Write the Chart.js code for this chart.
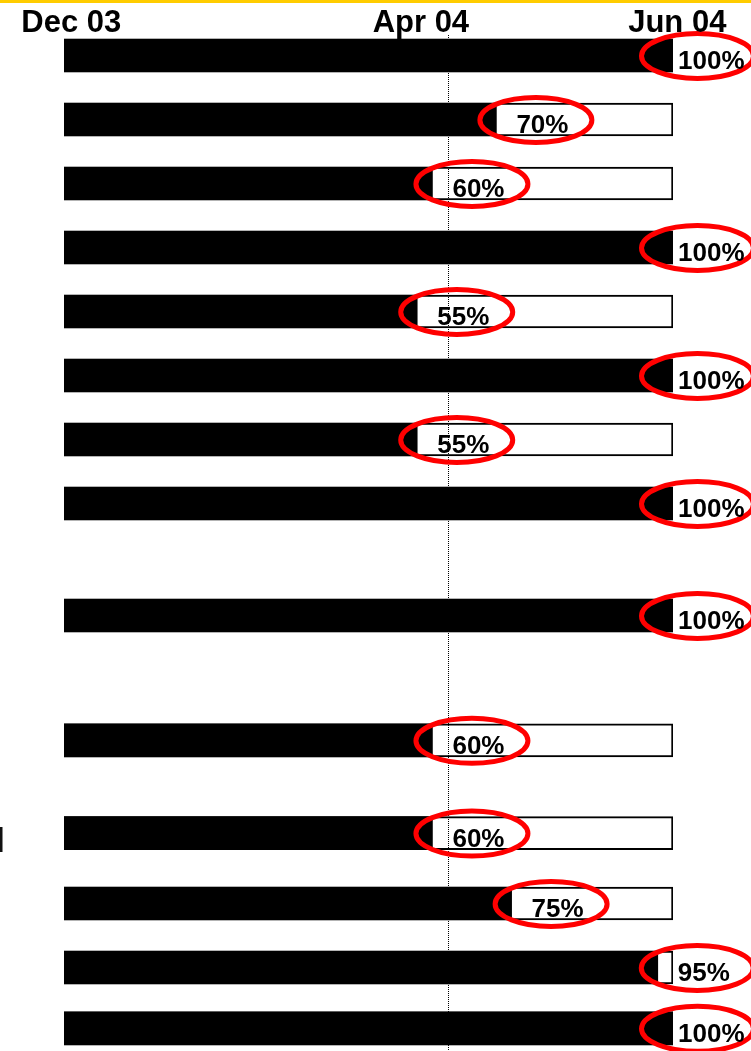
<!DOCTYPE html>
<html>
<head>
<meta charset="utf-8">
<script src="https://cdn.jsdelivr.net/npm/chart.js@4.4.1/dist/chart.umd.min.js"></script>
<style>
	html, body { margin: 0; padding: 0; background: #fff; overflow: hidden; }
	canvas { display: block; }
</style>
</head>
<body>
<canvas id="progressChart" width="751" height="1051"></canvas>
<script>
// row slots (in bar rows, gaps where rows are missing)
const rowSlots = [0, 1, 2, 3, 4, 5, 6, 7, 8.75, 10.7, 12.15, 13.25, 14.25, 15.2];
// length of the black bar, % of the Dec 03 - Jun 04 span
const progress = [100, 71, 60.5, 100, 58, 100, 58, 100, 100, 60.5, 60.5, 73.5, 97.5, 100];
const completeLabels = ['100%', '70%', '60%', '100%', '55%', '100%', '55%', '100%', '100%', '60%', '60%', '75%', '95%', '100%'];
const monthLabels = ['Dec 03', 'Apr 04', 'Jun 04'];
const monthTicks = [1.2, 58.6, 100.7];
const todayMark = 63.1;

const boldFont = '"Liberation Sans", Arial, Helvetica, sans-serif';

let overlayPlugin = {
	id: 'overlay',
	afterDatasetsDraw: function (chart) {
		let ctx = chart.ctx;
		let xScale = chart.scales.x;
		let yScale = chart.scales.y;
		let right = xScale.getPixelForValue(100);

		ctx.save();

		// dotted "today" line
		let lx = Math.round(xScale.getPixelForValue(todayMark)) + 0.5;
		ctx.strokeStyle = '#000';
		ctx.lineWidth = 1;
		ctx.setLineDash([1, 1]);
		ctx.beginPath();
		ctx.moveTo(lx, 35);
		ctx.lineTo(lx, chart.height);
		ctx.stroke();
		ctx.setLineDash([]);

		// red ellipses and percent labels
		ctx.font = 'bold 26px ' + boldFont;
		ctx.textAlign = 'left';
		ctx.textBaseline = 'alphabetic';
		rowSlots.forEach(function (slot, i) {
			let end = xScale.getPixelForValue(progress[i]);
			let anchor = Math.min(end, right - 15);
			let cy = yScale.getPixelForValue(slot);

			ctx.strokeStyle = '#ff0000';
			ctx.lineWidth = 5;
			ctx.beginPath();
			ctx.ellipse(anchor + 39.5, cy + 0.5, 56, 22.5, 0, 0, Math.PI * 2);
			ctx.stroke();

			ctx.fillStyle = '#000';
			ctx.fillText(completeLabels[i], anchor + 20, cy + 13.5);
		});

		// month labels on top
		ctx.font = 'bold 31px ' + boldFont;
		ctx.textAlign = 'center';
		ctx.fillStyle = '#000';
		monthLabels.forEach(function (label, i) {
			ctx.fillText(label, xScale.getPixelForValue(monthTicks[i]), 32);
		});

		// yellow rule along the top edge
		ctx.fillStyle = '#ffcc00';
		ctx.fillRect(0, 0, chart.width, 3);

		// clipped row caption fragment at the left edge
		ctx.fillStyle = '#111';
		ctx.fillRect(0, 827, 2.5, 25);

		ctx.restore();
	}
};

new Chart(document.getElementById('progressChart'), {
	type: 'bar',
	data: {
		datasets: [{
			label: 'done',
			data: rowSlots.map(function (slot, i) { return { x: progress[i], y: slot }; }),
			backgroundColor: '#000',
			barThickness: 33,
			grouped: false,
			order: 0
		}, {
			label: 'planned',
			data: rowSlots.map(function (slot) { return { x: 100, y: slot }; }),
			backgroundColor: '#fff',
			borderColor: '#000',
			borderWidth: 2,
			borderSkipped: false,
			barThickness: 33,
			grouped: false,
			order: 1
		}]
	},
	options: {
		indexAxis: 'y',
		responsive: false,
		animation: false,
		layout: {
			padding: { left: 64, right: 78, top: 23.5, bottom: 3.5 }
		},
		scales: {
			x: { type: 'linear', min: 0, max: 100, display: false },
			y: { type: 'linear', min: -0.5, max: 15.5, reverse: true, offset: false, display: false }
		},
		plugins: {
			legend: { display: false },
			tooltip: { enabled: false }
		}
	},
	plugins: [overlayPlugin]
});
</script>
</body>
</html>
